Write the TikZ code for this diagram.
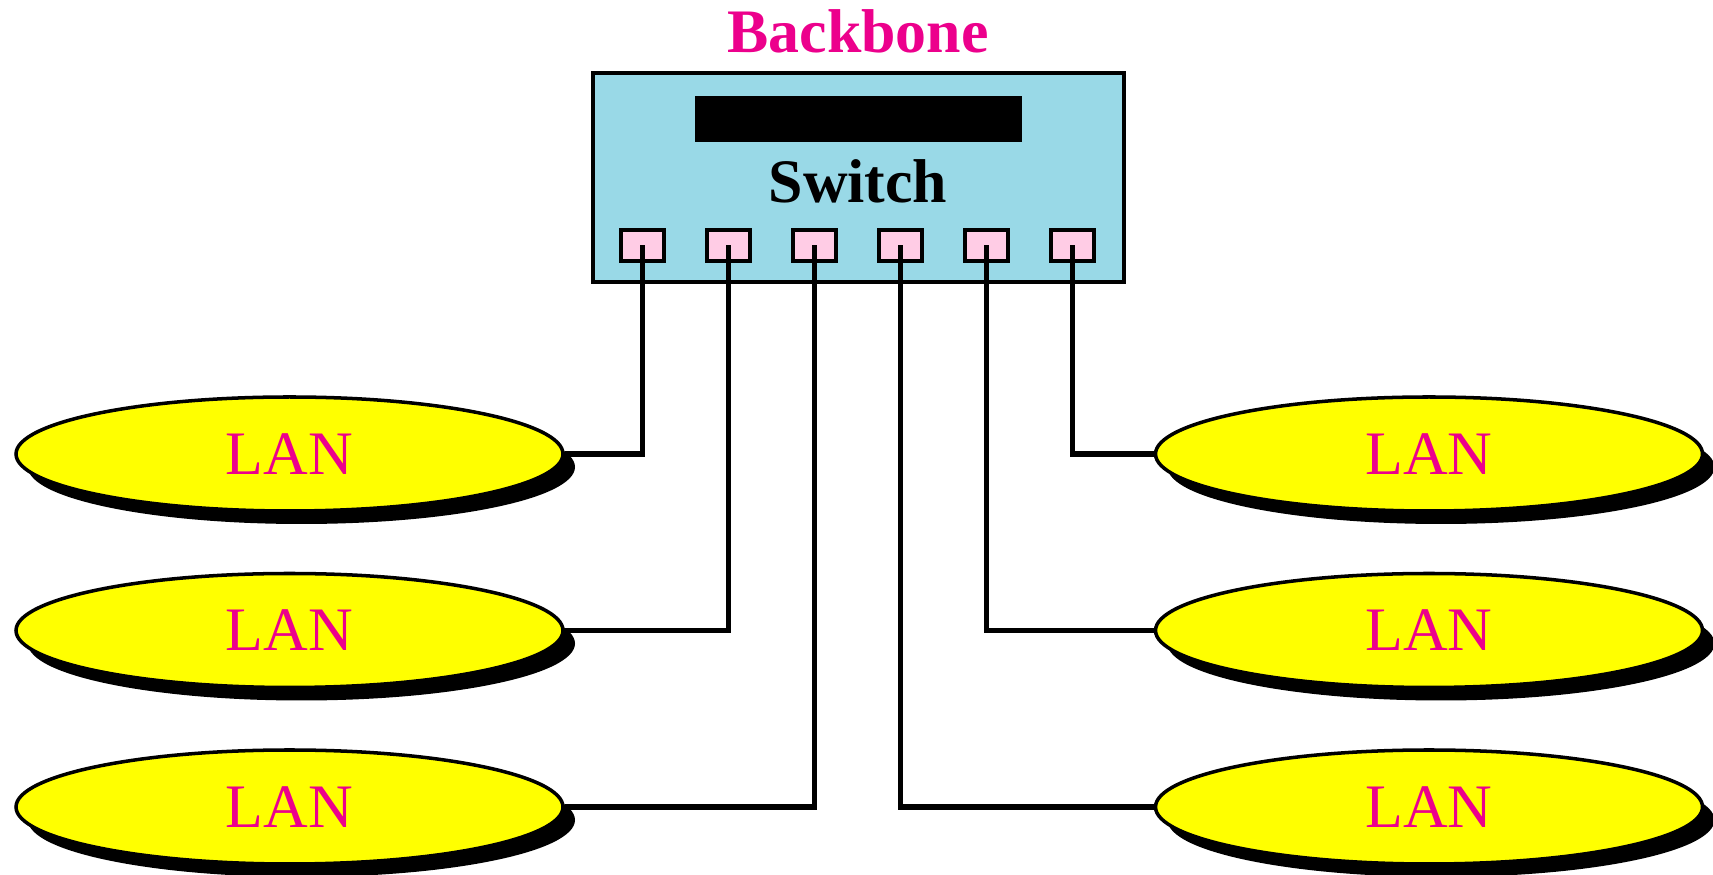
\documentclass[tikz,border=0pt]{standalone}
\usepackage{fontspec}
\setmainfont{Liberation Serif}
\usetikzlibrary{shapes.geometric,shadows}
\definecolor{bbpink}{RGB}{236,0,140}
\definecolor{swblue}{RGB}{153,217,231}
\definecolor{portpink}{RGB}{255,204,229}
\definecolor{lanyellow}{RGB}{255,255,0}

\begin{document}
\begin{tikzpicture}[x=0.1mm, y=-0.1mm,
  big/.style={font=\fontsize{17.6}{20}\selectfont},
  bigbf/.style={font=\fontsize{17.6}{20}\selectfont\bfseries},
  lan/.style={ellipse, draw, line width=1pt, fill=lanyellow, inner sep=0pt,
              minimum width=54.7mm, minimum height=11.4mm, big, text=bbpink,
              drop shadow={shadow xshift=1.2mm, shadow yshift=-1.3mm,
                           fill=black, opacity=1}},
  port/.style={draw, line width=1.2pt, fill=portpink, inner sep=0pt,
               minimum width=4.3mm, minimum height=3.1mm},
  wire/.style={line width=1.5pt},
]
\useasboundingbox (0,0) rectangle (1713,875);
\def\dx{86}
% backbone switch
\node[bigbf, text=bbpink, anchor=base] (bb) at (858,53) {Backbone};
\node[draw, line width=1.2pt, fill=swblue, inner sep=0pt,
      minimum width=53.1mm, minimum height=20.9mm] (sw) at (858.5,177.5) {};
\node[fill=black, inner sep=0pt, minimum width=32.7mm, minimum height=4.6mm]
  (display) at (858,119) {};
\node[bigbf, anchor=base] (swlabel) at (858,203) {Switch};
\foreach \i in {1,...,6}
  \node[port] (p\i) at ({642.5+(\i-1)*\dx},245.5) {};
% LANs
\foreach \n/\y in {1/454,2/630.5,3/807} {
  \node[lan] (lanL\n) at (289.5,\y) {LAN};
  \node[lan] (lanR\n) at (1429,\y) {LAN};
}
% cables
\foreach \p/\l in {1/lanL1,2/lanL2,3/lanL3}
  \draw[wire] (p\p.center) |- (\l.east);
\foreach \p/\l in {6/lanR1,5/lanR2,4/lanR3}
  \draw[wire] (p\p.center) |- (\l.west);
\end{tikzpicture}
\end{document}
